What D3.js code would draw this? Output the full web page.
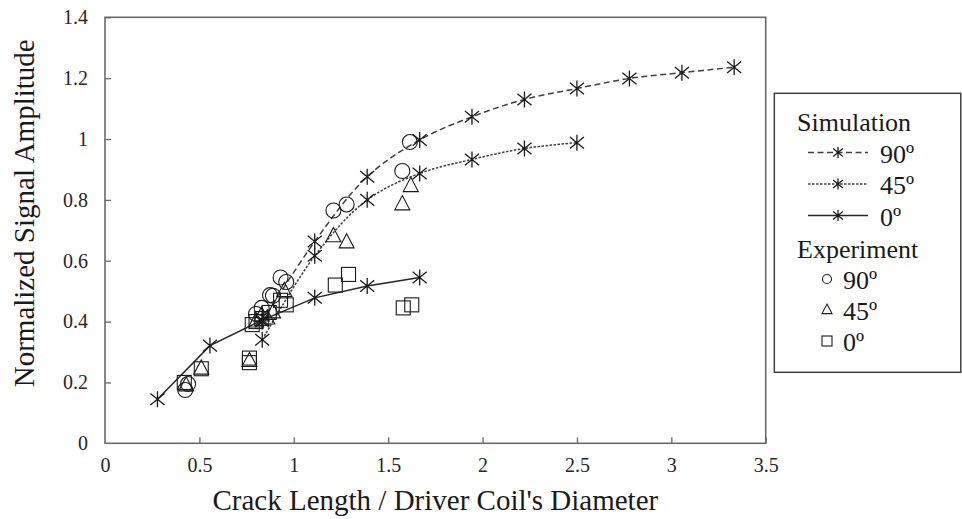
<!DOCTYPE html>
<html>
<head>
<meta charset="utf-8">
<script src="https://cdn.jsdelivr.net/npm/d3@7"></script>
<style>
  html, body { margin: 0; padding: 0; background: #fff; }
  svg { display: block; }
</style>
</head>
<body>
<svg id="chart" width="962" height="519" font-family="Liberation Serif, DejaVu Serif, serif"></svg>
<script>
// ---------- data ----------
const xTicks = [0, 0.5, 1, 1.5, 2, 2.5, 3, 3.5];
const yTicks = [0, 0.2, 0.4, 0.6, 0.8, 1, 1.2, 1.4];

const sim90X = [0.833, 1.111, 1.389, 1.667, 1.944, 2.222, 2.5, 2.778, 3.056, 3.333];
const sim90Y = [0.40, 0.663, 0.876, 0.997, 1.073, 1.130, 1.166, 1.199, 1.218, 1.236];
const sim45X = [0.833, 1.111, 1.389, 1.667, 1.944, 2.222, 2.5];
const sim45Y = [0.34, 0.616, 0.800, 0.887, 0.933, 0.969, 0.988];
const sim0X  = [0.278, 0.556, 0.833, 1.111, 1.389, 1.667];
const sim0Y  = [0.145, 0.321, 0.405, 0.478, 0.517, 0.545];

const exp90X = [0.425, 0.44, 0.80, 0.83, 0.874, 0.89, 0.93, 0.96, 1.21, 1.28, 1.575, 1.615];
const exp90Y = [0.175, 0.195, 0.425, 0.445, 0.487, 0.485, 0.545, 0.53, 0.765, 0.785, 0.895, 0.99];
const exp45X = [0.43, 0.51, 0.765, 0.80, 0.83, 0.86, 0.89, 0.95, 1.21, 1.28, 1.575, 1.62];
const exp45Y = [0.19, 0.245, 0.27, 0.40, 0.42, 0.41, 0.43, 0.50, 0.68, 0.66, 0.785, 0.845];
const exp0X  = [0.42, 0.51, 0.765, 0.765, 0.78, 0.80, 0.83, 0.87, 0.93, 0.96, 1.22, 1.29, 1.58, 1.625];
const exp0Y  = [0.20, 0.245, 0.28, 0.265, 0.39, 0.40, 0.41, 0.43, 0.47, 0.455, 0.52, 0.555, 0.445, 0.455];

const legendSim = ["90º", "45º", "0º"];
const legendExp = ["90º", "45º", "0º"];

// ---------- setup ----------
const FONT = "'Liberation Serif', 'DejaVu Serif', serif";
const svg = d3.select("#chart");
const x = d3.scaleLinear().domain([0, 3.5]).range([105, 765.7]);
const y = d3.scaleLinear().domain([0, 1.4]).range([443.3, 17.3]);
const axisColor = "#6a6a6a";
const ink = "#1a1a1a";

// axes
const gx = svg.append("g").attr("transform", `translate(0,${y(0)})`)
  .call(d3.axisBottom(x).tickValues(xTicks).tickFormat(d3.format("")).tickSizeInner(-6).tickSizeOuter(0).tickPadding(14.5));
const gy = svg.append("g").attr("transform", `translate(${x(0)},0)`)
  .call(d3.axisLeft(y).tickValues(yTicks).tickFormat(d3.format("")).tickSizeInner(-6).tickSizeOuter(0).tickPadding(17));
[gx, gy].forEach(g => {
  g.attr("font-family", FONT).attr("font-size", 20);
  g.select(".domain").remove();
  g.selectAll(".tick line").attr("stroke", axisColor).attr("stroke-width", 1.3);
  g.selectAll(".tick text").attr("fill", "#262626").attr("font-family", FONT).attr("font-size", 20);
});
gx.selectAll(".tick").filter(d => d === 0).select("line").remove();
gy.selectAll(".tick").filter(d => d === 0).select("line").remove();

// plot frame
svg.append("rect")
  .attr("x", x(0)).attr("y", y(1.4))
  .attr("width", x(3.5) - x(0)).attr("height", y(0) - y(1.4))
  .attr("fill", "none").attr("stroke", axisColor).attr("stroke-width", 1.6);

// axis titles
svg.append("text").attr("x", (x(0) + x(3.5)) / 2).attr("y", 510)
  .attr("text-anchor", "middle").attr("font-family", FONT).attr("font-size", 29).attr("fill", ink)
  .text("Crack Length / Driver Coil's Diameter");
svg.append("text").attr("transform", `translate(34,${(y(0) + y(1.4)) / 2 - 17}) rotate(-90)`)
  .attr("text-anchor", "middle").attr("font-family", FONT).attr("font-size", 29).attr("fill", ink)
  .text("Normalized Signal Amplitude");

// ---------- marker helpers ----------
function starPath(h) {
  const dx = h * 0.88, dy = h * 0.72;
  return `M0,${-h}L0,${h}M${-dx},${-dy}L${dx},${dy}M${-dx},${dy}L${dx},${-dy}`;
}
function trianglePath(s) {
  const h = s * 0.95;
  return `M0,${-h * 0.62}L${s / 2},${h * 0.38}L${-s / 2},${h * 0.38}Z`;
}
function drawStar(g, cx, cy, h) {
  g.append("path").attr("transform", `translate(${cx},${cy})`).attr("d", starPath(h))
    .attr("fill", "none").attr("stroke", ink).attr("stroke-width", 1.3);
}
function drawExp(g, kind, cx, cy, s) {
  if (kind === "circle") {
    g.append("circle").attr("cx", cx).attr("cy", cy).attr("r", s / 2)
      .attr("fill", "none").attr("stroke", ink).attr("stroke-width", 1.1);
  } else if (kind === "triangle") {
    g.append("path").attr("transform", `translate(${cx},${cy})`).attr("d", trianglePath(s))
      .attr("fill", "none").attr("stroke", ink).attr("stroke-width", 1.1);
  } else {
    g.append("rect").attr("x", cx - s / 2).attr("y", cy - s / 2).attr("width", s).attr("height", s)
      .attr("fill", "none").attr("stroke", ink).attr("stroke-width", 1.1);
  }
}

// ---------- simulation lines ----------
const sims = [
  { xs: sim90X, ys: sim90Y, dash: "6,3.5", color: "#404040", curve: d3.curveCatmullRom.alpha(0.5) },
  { xs: sim45X, ys: sim45Y, dash: "2.5,1.5", color: "#404040", curve: d3.curveCatmullRom.alpha(0.5) },
  { xs: sim0X,  ys: sim0Y,  dash: null, color: "#262626", curve: d3.curveLinear }
];
const gSim = svg.append("g");
sims.forEach(s => {
  const pts = s.xs.map((v, i) => [v, s.ys[i]]);
  const line = d3.line().x(d => x(d[0])).y(d => y(d[1])).curve(s.curve);
  gSim.append("path").attr("d", line(pts)).attr("fill", "none")
    .attr("stroke", s.color).attr("stroke-width", 1.5)
    .attr("stroke-dasharray", s.dash);
});

// ---------- experiment markers ----------
const gExp = svg.append("g");
const exps = [
  { xs: exp0X, ys: exp0Y, kind: "square", size: 14 },
  { xs: exp45X, ys: exp45Y, kind: "triangle", size: 15 },
  { xs: exp90X, ys: exp90Y, kind: "circle", size: 15 }
];
exps.forEach(e => e.xs.forEach((v, i) => drawExp(gExp, e.kind, x(v), y(e.ys[i]), e.size)));

// simulation stars on top
sims.forEach(s => s.xs.forEach((v, i) => drawStar(gSim, x(v), y(s.ys[i]), 8)));

// ---------- legend ----------
const lg = svg.append("g").attr("font-family", FONT);
lg.append("rect").attr("x", 774.3).attr("y", 93.3).attr("width", 186.5).attr("height", 279)
  .attr("fill", "#fff").attr("stroke", "#404040").attr("stroke-width", 1.5);
const lfs = 26;
lg.append("text").attr("x", 797).attr("y", 131).attr("font-size", lfs).attr("fill", ink).text("Simulation");
legendSim.forEach((t, i) => {
  const by = 162.5 + i * 31.5;
  const cy = by - 10;
  lg.append("line").attr("x1", 808).attr("x2", 868).attr("y1", cy).attr("y2", cy)
    .attr("stroke", sims[i].color).attr("stroke-width", 1.3).attr("stroke-dasharray", sims[i].dash);
  drawStar(lg, 838, cy, 5.5);
  lg.append("text").attr("x", 880).attr("y", by).attr("font-size", lfs).attr("fill", ink).text(t);
});
lg.append("text").attr("x", 797).attr("y", 257.5).attr("font-size", lfs).attr("fill", ink).text("Experiment");
const kinds = ["circle", "triangle", "square"];
legendExp.forEach((t, i) => {
  const by = 289 + i * 31;
  const cy = by - 10;
  drawExp(lg, kinds[i], 827, cy, kinds[i] === "circle" ? 9 : 10);
  lg.append("text").attr("x", 843).attr("y", by).attr("font-size", lfs).attr("fill", ink).text(t);
});
</script>
</body>
</html>
